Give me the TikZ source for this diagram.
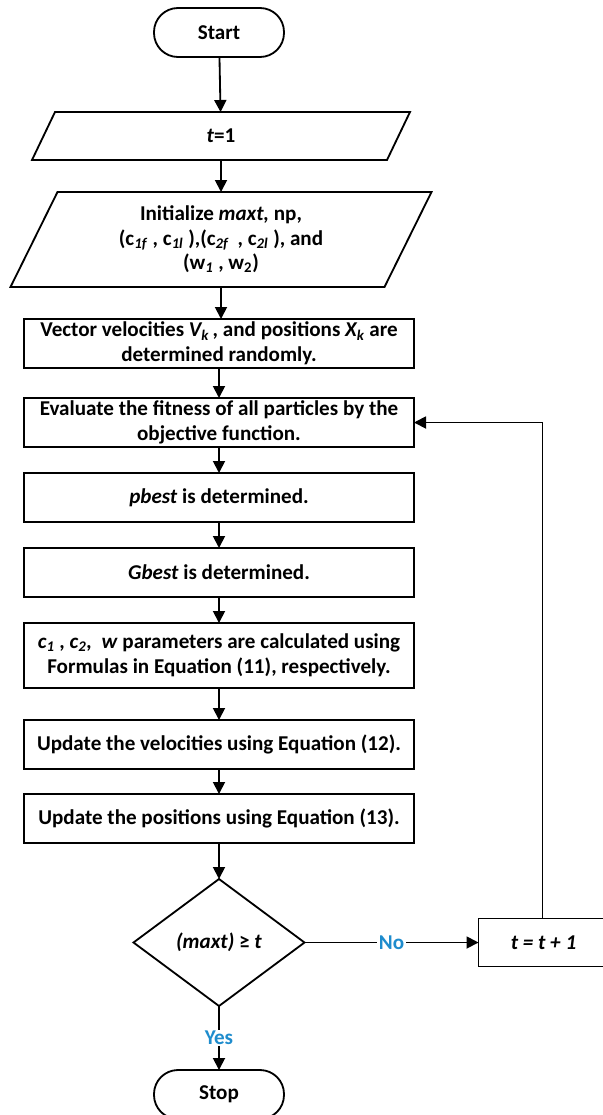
\documentclass[tikz,border=0pt]{standalone}
\usepackage{fontspec}
\setmainfont{Carlito}
\usetikzlibrary{positioning,shapes.geometric,arrows.meta}

\definecolor{ansblue}{RGB}{30,140,205}

% slanted frame round a plain node (data / input step)
\newcommand{\ioframe}[2]{%
  \draw ([xshift=#2]#1.north west) -- ([xshift=#2]#1.north east)
     -- ([xshift=-#2]#1.south east) -- ([xshift=-#2]#1.south west) -- cycle;}

\tikzset{
  terminal/.style={draw, rounded corners=0.6cm, minimum width=3.25cm, minimum height=1.225cm},
  process/.style={draw, minimum width=9.75cm, minimum height=1.225cm, align=center, inner sep=1pt},
  iobody/.style={align=center, inner sep=1pt},
  decision/.style={draw, diamond, minimum width=4.275cm, minimum height=3.175cm, inner sep=0pt},
  flow/.style={-{Triangle[length=0.3cm,width=0.3cm]}},
  answer/.style={fill=white, text=ansblue, inner sep=1pt}
}

\begin{document}
\begin{tikzpicture}[line width=1.3pt,
    every node/.style={outer sep=0pt, font=\bfseries\fontsize{15}{17.5}\selectfont}]
  \useasboundingbox (0,0) rectangle (15.075,-27.875);

  \node (start) [terminal] at (5.475,-0.8125) {Start};
  \node (tone) [iobody, minimum width=8.875cm, minimum height=1.2cm, below=1.375cm of start, xshift=0.05cm] {\textit{t}=1};
  \node (init) [iobody, minimum width=9.35cm, minimum height=2.375cm, below=0.8cm of tone] {Initialize \textit{maxt,} np,\\
    (c\textsubscript{\textit{1f}} , c\textsubscript{\textit{1l}} ),(c\textsubscript{\textit{2f}} \,, c\textsubscript{\textit{2l}} ), and\\
    (w\textsubscript{\textit{1}} , w\textsubscript{2})};
  \node (vec) [process, below=0.8cm of init, xshift=-0.05cm] {Vector velocities \textit{V\textsubscript{k}}\,, and positions \textit{X\textsubscript{k}} are\\ determined randomly.};
  \node (eval) [process, below=0.75cm of vec] {Evaluate the fitness of all particles by the\\ objective function.};
  \node (pbest) [process, below=0.65cm of eval] {\textit{pbest} is determined.};
  \node (gbest) [process, below=0.65cm of pbest] {\textit{Gbest} is determined.};
  \node (coef) [process, minimum height=1.625cm, below=0.65cm of gbest] {\textit{c\textsubscript{1}} , \textit{c\textsubscript{2},} \ \textit{w} parameters are calculated using\\ Formulas in Equation (11), respectively.};
  \node (vel) [process, below=0.8cm of coef] {Update the velocities using Equation (12).};
  \node (pos) [process, below=0.625cm of vel] {Update the positions using Equation (13).};
  \node (check) [decision, below=0.9cm of pos] {\textit{(maxt)} ≥ \textit{t}};
  \node (tinc) [draw, minimum width=3.6cm, minimum height=1.2cm, right=4.35cm of check] {\hspace*{-0.35cm}\textit{t = t + 1}};
  \node (stop) [terminal, below=1.6cm of check] {Stop};

  \ioframe{tone}{0.2875cm}
  \ioframe{init}{0.5875cm}

  \draw[flow] (start) -- (tone);
  \draw[flow] (tone) -- (tone |- init.north);
  \draw[flow] (init) -- (init |- vec.north);
  \draw[flow] (vec) -- (eval);
  \draw[flow] (eval) -- (pbest);
  \draw[flow] (pbest) -- (gbest);
  \draw[flow] (gbest) -- (coef);
  \draw[flow] (coef) -- (vel);
  \draw[flow] (vel) -- (pos);
  \draw[flow] (pos) -- (check);
  \draw[flow] (check) -- node[answer] {No} (tinc);
  \draw[flow] (check) -- node[answer] {Yes} (stop);
  \draw[flow] ([xshift=-0.2cm]tinc.north) |- (eval);
\end{tikzpicture}
\end{document}
